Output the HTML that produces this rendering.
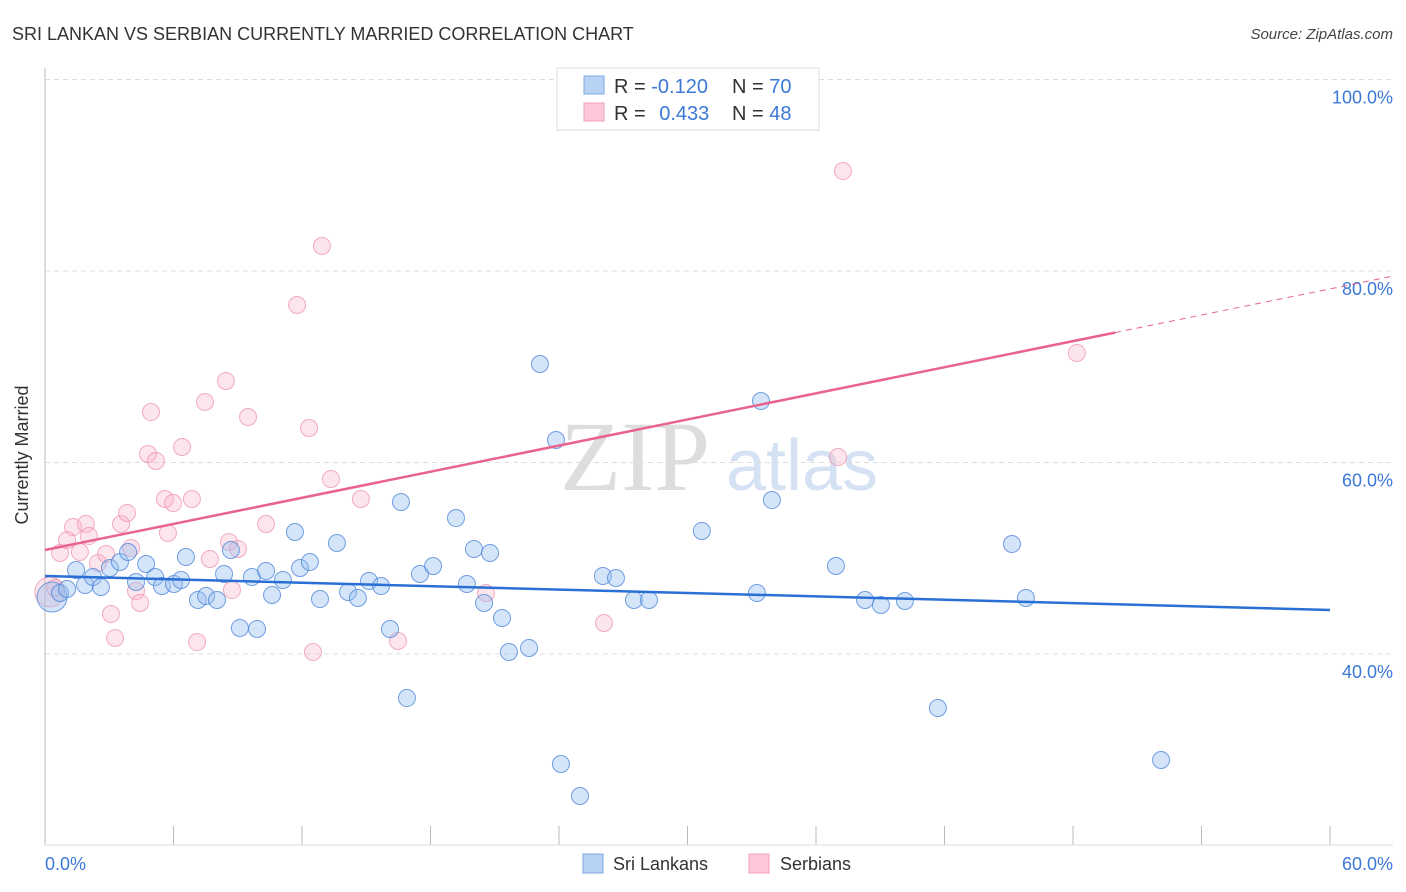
<!DOCTYPE html>
<html><head><meta charset="utf-8"><style>
body{margin:0;background:#fff;font-family:"Liberation Sans",sans-serif}
svg{display:block}
</style></head><body>
<svg id="c" width="1406" height="892" xmlns="http://www.w3.org/2000/svg">
<text x="12" y="40" font-size="18" fill="#333">SRI LANKAN VS SERBIAN CURRENTLY MARRIED CORRELATION CHART</text>
<text x="1393" y="39" font-size="15" font-style="italic" fill="#444" text-anchor="end">Source: ZipAtlas.com</text>
<text x="635" y="490" font-size="100" font-family="Liberation Serif,serif" fill="#ddd" text-anchor="middle">ZIP</text>
<text x="802" y="490" font-size="72" fill="#d4e2f4" text-anchor="middle">atlas</text>
<g id="grid"></g>
<line x1="45" y1="68" x2="45" y2="845" stroke="#bbb"/>
<line x1="45" y1="845" x2="1393" y2="845" stroke="#ddd"/>
<text x="28" y="455" font-size="18" fill="#333" text-anchor="middle" transform="rotate(-90 28 455)">Currently Married</text>
<g id="pts"></g>
<g id="lines"></g>
<g>
<rect x="557" y="68" width="262" height="62" fill="#fff" stroke="#ddd"/>
<rect x="584" y="76" width="20" height="18" fill="#b8d2f4" stroke="#7fa9e4"/>
<rect x="584" y="103" width="20" height="18" fill="#fcc8d8" stroke="#eea0b8"/>
<text x="614" y="93" font-size="20" fill="#333">R = <tspan fill="#3b78d8">-0.120</tspan></text>
<text x="732" y="93" font-size="20" fill="#333">N = <tspan fill="#3b78d8">70</tspan></text>
<text x="614" y="120" font-size="20" fill="#333">R = <tspan fill="#3b78d8" dx="8">0.433</tspan></text>
<text x="732" y="120" font-size="20" fill="#333">N = <tspan fill="#3b78d8">48</tspan></text>
</g>
<g>
<rect x="583" y="854" width="20" height="19" fill="#b8d2f4" stroke="#7fa9e4"/>
<text x="613" y="870" font-size="18" fill="#333">Sri Lankans</text>
<rect x="749" y="854" width="20" height="19" fill="#fcc8d8" stroke="#eea0b8"/>
<text x="780" y="870" font-size="18" fill="#333">Serbians</text>
</g>
<text x="45" y="870" font-size="18" fill="#3b78d8">0.0%</text>
<text x="1393" y="870" font-size="18" fill="#3b78d8" text-anchor="end">60.0%</text>
</svg>
<script>
const yTicks=[40,60,80,100];
const yTickLabels=["40.0%","60.0%","80.0%","100.0%"];
const xTicks=[0,6,12,18,24,30,36,42,48,54,60];
const blueX=[.33,.70,1.03,1.45,1.87,2.24,2.61,3.03,3.50,3.88,4.25,4.72,5.14,5.46,6.02,6.35,6.58,7.14,7.52,8.03,8.36,8.68,9.10,9.66,9.90,10.32,10.60,11.11,11.67,11.91,12.37,12.84,13.63,14.15,14.61,15.13,15.69,16.11,16.62,16.90,17.51,18.12,19.19,19.70,20.03,20.50,20.78,21.34,21.66,22.60,23.11,23.86,24.09,24.98,26.05,26.66,27.50,28.20,30.67,33.24,33.43,33.94,36.93,38.29,39.03,40.15,41.69,45.15,45.80,52.11];
const blueY=[45.95,46.37,46.79,48.77,47.21,48.04,47.00,48.98,49.61,50.65,47.52,49.40,48.04,47.10,47.31,47.73,50.13,45.64,46.06,45.64,48.36,50.86,42.72,48.04,42.61,48.67,46.16,47.73,52.74,48.98,49.61,45.74,51.59,46.48,45.85,47.62,47.10,42.61,55.87,35.40,48.36,49.19,54.20,47.31,50.97,45.33,50.55,43.76,40.21,40.63,70.29,62.35,28.51,25.17,48.15,47.94,45.64,45.64,52.85,46.37,66.42,56.08,49.19,45.64,45.12,45.54,34.36,51.49,45.85,28.93];
const pinkX=[.23,.47,.70,1.03,1.31,1.63,1.91,2.05,2.47,2.85,3.08,3.27,3.55,3.83,4.02,4.25,4.44,4.81,4.95,5.18,5.60,5.74,5.98,6.40,6.86,7.10,7.47,7.70,8.45,8.59,8.73,9.01,9.48,10.32,11.77,12.33,12.51,12.93,13.35,14.75,16.48,20.59,26.10,37.03,37.26,48.18];
const pinkY=[46.48,46.89,50.55,51.91,53.26,50.65,53.58,52.32,49.50,50.44,44.18,41.67,53.58,54.73,51.07,46.58,45.33,60.89,65.27,60.16,56.19,52.64,55.77,61.62,56.19,41.25,66.32,49.92,68.51,51.70,46.68,50.97,64.75,53.58,76.45,63.60,40.21,82.61,58.28,56.19,41.36,46.37,43.24,60.57,90.44,71.44];
const blueLine=[48.15,44.60];
const pinkLine=[50.86,0.4545,49.96];
const NS="http://www.w3.org/2000/svg";
const X=v=>45+v/60*1285;
const Y=v=>654-(v-40)*9.575;
function mk(t,a,p){const e=document.createElementNS(NS,t);for(const k in a)e.setAttribute(k,a[k]);p.appendChild(e);return e;}
const grid=document.getElementById('grid');
yTicks.forEach((t,i)=>{
 const l=mk('line',{x1:45,x2:1393,y1:Y(t),y2:Y(t),stroke:'#ddd','stroke-dasharray':'5,4'},grid);
 
 
 const tx=mk('text',{x:1393,y:Y(t)+24,'font-size':18,fill:'#3b78d8','text-anchor':'end'},grid);
 tx.textContent=yTickLabels[i];
 
 
});
xTicks.forEach(t=>{
 const l=mk('line',{x1:X(t),x2:X(t),y1:826,y2:845,stroke:'#bbb'},grid);
 
 
});
const pts=document.getElementById('pts');
pinkX.forEach((x,i)=>{
 const c=mk('circle',{cx:X(x),cy:Y(pinkY[i]),r:i==0?15:8.5,fill:'rgba(248,180,200,0.35)',stroke:'rgba(236,140,170,0.7)','stroke-width':1},pts);
 
 
});
blueX.forEach((x,i)=>{
 const c=mk('circle',{cx:X(x),cy:Y(blueY[i]),r:i==0?15:8.5,fill:'rgba(150,190,240,0.4)',stroke:'rgba(70,130,215,0.75)','stroke-width':1},pts);
 
 
});
const lines=document.getElementById('lines');
const bl=mk('line',{x1:X(0),y1:Y(blueLine[0]),x2:X(60),y2:Y(blueLine[1]),stroke:'#2a6fd6','stroke-width':2.5},lines);


const pe=pinkLine[2];
const pl=mk('line',{x1:X(0),y1:Y(pinkLine[0]),x2:X(pe),y2:Y(pinkLine[0]+pinkLine[1]*pe),stroke:'#e8648e','stroke-width':2.5},lines);


const pd=mk('line',{x1:X(pe),y1:Y(pinkLine[0]+pinkLine[1]*pe),x2:1393,y2:Y(pinkLine[0]+pinkLine[1]*((1393-45)/1285*60)),stroke:'#e8648e','stroke-width':1,'stroke-dasharray':'6,5'},lines);


</script>
</body></html>
